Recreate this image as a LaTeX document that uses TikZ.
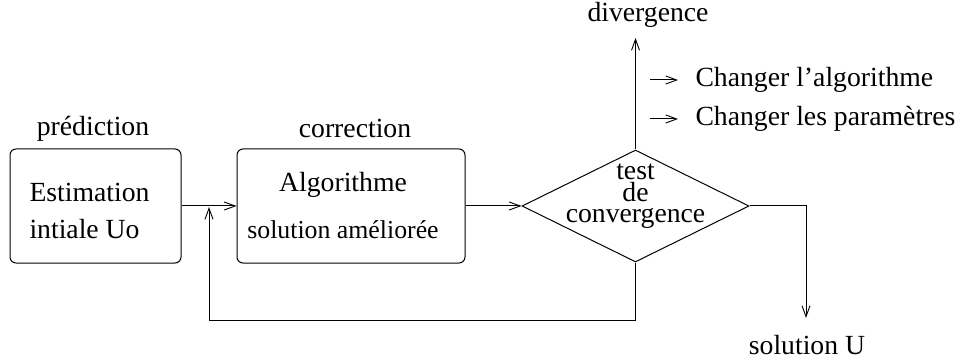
\documentclass[tikz,border=0pt]{standalone}
\usepackage{fontspec}
\setmainfont{Liberation Serif}
\usetikzlibrary{arrows.meta,shapes.geometric}
\begin{document}
\begin{tikzpicture}[x=1pt,y=-1pt,
  line width=1pt,
  arr/.style={-{Straight Barb[length=11pt,width=8pt,line width=0.9pt]}},
  box/.style={draw,rounded corners=6pt,minimum height=114pt,inner sep=0pt},
  lbl/.style={font=\fontsize{27.7}{30}\selectfont,inner sep=0pt}
]
\useasboundingbox (0,0) rectangle (960,363);
\node[box,minimum width=171pt] (b1) at (95.5,206) {};
\node[box,minimum width=228pt] (b2) at (351,206) {};
\node[lbl,anchor=west] (b1a) at (29,192) {Estimation};
\node[lbl,anchor=west] (b1b) at (29,229) {intiale Uo};
\node[lbl] (b2a) at (343,185) {Algorithme};
\node[lbl,font=\fontsize{25.8}{28}\selectfont] (b2b) at (343,230) {solution améliorée};
\node[draw,diamond,minimum width=227pt,minimum height=112pt,inner sep=0pt] (d) at (635.5,206) {};
\node[lbl,anchor=base,text height=17pt,text depth=0pt] (dt1) at (635.5,180) {test};
\node[lbl,anchor=base,text height=19pt,text depth=0pt] (dt2) at (635.5,202) {de};
\node[lbl,anchor=base,text height=13pt,text depth=6pt] (dt3) at (635.5,223) {convergence};
\node[lbl] (pr) at (93,129) {prédiction};
\node[lbl] (co) at (355,128) {correction};
\node[lbl] (dv) at (648,15) {divergence};
\node[lbl] (su) at (807,345) {solution U};
\node[lbl,anchor=west] (c1) at (695,80) {Changer l’algorithme};
\node[lbl,anchor=west] (c2) at (695,119) {Changer les paramètres};
\coordinate (dvp) at (635.5,38);
\coordinate (sup) at (806,318);
\coordinate (fbc) at (209,320);
\coordinate (fb) at (209,207);
\coordinate (a1) at (650,80);
\coordinate (a2) at (650,119);
\draw[arr] (b1.east) -- (b2.west);
\draw[arr] (b2.east) -- (d.west);
\draw[arr] (d.north) -- (dvp);
\draw[arr] (d.east) -| (sup);
\draw[arr] (d.south) |- (fbc) -- (fb);
\draw[arr] (a1) -- ++(28,0);
\draw[arr] (a2) -- ++(28,0);
\end{tikzpicture}
\end{document}
